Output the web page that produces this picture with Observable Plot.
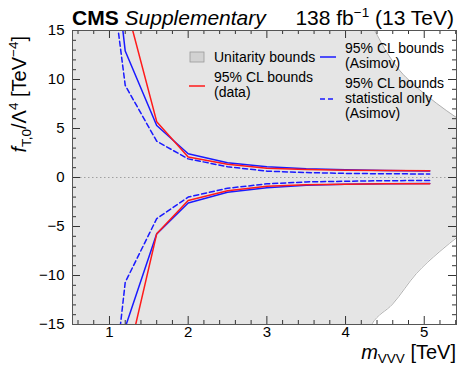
<!DOCTYPE html>
<html>
<head>
<meta charset="utf-8">
<script src="https://cdn.jsdelivr.net/npm/d3@7"></script>
<script src="https://cdn.jsdelivr.net/npm/@observablehq/plot@0.6"></script>
<style>
  body { margin: 0; background: white; }
  #wrap { position: relative; width: 460px; height: 366px; font-family: "Liberation Sans", Arial, sans-serif; }
  #overlay { position: absolute; left: 0; top: 0; pointer-events: none; }
</style>
</head>
<body>
<div id="wrap"></div>
<script>
// ---- data ----
const massX = [1.0, 1.2, 1.6, 2.0, 2.5, 3.0, 3.5, 4.0, 4.5, 5.07];
const dataUpper   = [null, 17.9, 5.7, 2.1, 1.35, 0.95, 0.82, 0.75, 0.72, 0.70];
const dataLower   = [null, -19.6, -5.75, -2.35, -1.35, -0.9, -0.75, -0.68, -0.65, -0.65];
const asimovUpper = [27, 12.9, 5.3, 2.42, 1.5, 1.1, 0.9, 0.8, 0.72, 0.66];
const asimovLower = [-30, -15.3, -5.75, -2.6, -1.5, -1.05, -0.8, -0.7, -0.65, -0.6];
const statUpper   = [22, 9.4, 3.7, 1.9, 1.1, 0.65, 0.5, 0.42, 0.38, 0.36];
const statLower   = [-25, -10.7, -4.2, -2.0, -1.1, -0.65, -0.45, -0.38, -0.33, -0.3];

// unitarity boundary points
const unitUpX = [4.30, 4.37, 4.50, 4.69, 4.85, 5.03, 5.28, 5.45];
const unitUpY = [16.0, 15.0, 13.1, 10.9, 9.6, 8.37, 6.84, 5.9];
const unitLoX = [4.27, 4.33, 4.60, 4.90, 5.19, 5.45];
const unitLoY = [-15.85, -15.0, -12.9, -9.8, -7.6, -5.9];

const xMajor = [1, 2, 3, 4, 5];
const xMinor = d3.range(0.6, 5.41, 0.2).map(v => +v.toFixed(1)).filter(v => !xMajor.includes(v));
const yMajor = [-15, -10, -5, 0, 5, 10, 15];
const yMinor = d3.range(-14, 15, 1).filter(v => v % 5 !== 0);

const xDomain = [0.53, 5.41];
const yDomain = [-15, 15];

// ---- build tables ----
function series(vals) {
  return massX.map((x, i) => ({x, y: vals[i]})).filter(d => d.y !== null);
}
const unitUp = unitUpX.map((x, i) => ({x, y: unitUpY[i]}));
const unitLo = unitLoX.map((x, i) => ({x, y: unitLoY[i]}));

const W = 460, H = 366, mL = 72, mR = 4, mT = 30, mB = 42;
const pxPerY = (H - mT - mB) / (yDomain[1] - yDomain[0]);
const pxPerX = (W - mL - mR) / (xDomain[1] - xDomain[0]);
const tyMaj = 8 / pxPerY, tyMin = 4 / pxPerY;
const txMaj = 8 / pxPerX, txMin = 4 / pxPerX;

const gray = "#e5e5e5";
const red = "#ff1a1a", blue = "#1a1aff";

const plot = Plot.plot({
  width: W, height: H,
  marginLeft: mL, marginRight: mR, marginTop: mT, marginBottom: mB,
  x: {domain: xDomain},
  y: {domain: yDomain},
  style: {fontFamily: "Liberation Sans, Arial, sans-serif", fontSize: "15px", color: "black", background: "white"},
  marks: [
    Plot.frame({fill: gray, stroke: null}),
    Plot.areaY(unitUp, {x: "x", y1: "y", y2: 17, fill: "white", curve: "monotone-x", clip: true}),
    Plot.areaY(unitLo, {x: "x", y1: "y", y2: -17, fill: "white", curve: "monotone-x", clip: true}),
    Plot.line(unitUp, {x: "x", y: "y", stroke: "#a8a8a8", strokeWidth: 0.9, curve: "monotone-x", clip: true}),
    Plot.line(unitLo, {x: "x", y: "y", stroke: "#a8a8a8", strokeWidth: 0.9, curve: "monotone-x", clip: true}),
    Plot.ruleY([0], {stroke: "#a0a0a0", strokeDasharray: "1.5,2.5", strokeWidth: 1}),
    Plot.line(series(statUpper), {x: "x", y: "y", stroke: blue, strokeWidth: 1.5, strokeDasharray: "5,3", clip: true}),
    Plot.line(series(statLower), {x: "x", y: "y", stroke: blue, strokeWidth: 1.5, strokeDasharray: "5,3", clip: true}),
    Plot.line(series(asimovUpper), {x: "x", y: "y", stroke: blue, strokeWidth: 1.5, clip: true}),
    Plot.line(series(asimovLower), {x: "x", y: "y", stroke: blue, strokeWidth: 1.5, clip: true}),
    Plot.line(series(dataUpper), {x: "x", y: "y", stroke: red, strokeWidth: 1.5, clip: true}),
    Plot.line(series(dataLower), {x: "x", y: "y", stroke: red, strokeWidth: 1.5, clip: true}),
    // inward ticks on all four sides
    Plot.ruleX(xMajor, {y1: yDomain[0], y2: yDomain[0] + tyMaj, stroke: "#333"}),
    Plot.ruleX(xMinor, {y1: yDomain[0], y2: yDomain[0] + tyMin, stroke: "#333"}),
    Plot.ruleX(xMajor, {y1: yDomain[1], y2: yDomain[1] - tyMaj, stroke: "#333"}),
    Plot.ruleX(xMinor, {y1: yDomain[1], y2: yDomain[1] - tyMin, stroke: "#333"}),
    Plot.ruleY(yMajor, {x1: xDomain[0], x2: xDomain[0] + txMaj, stroke: "#333"}),
    Plot.ruleY(yMinor, {x1: xDomain[0], x2: xDomain[0] + txMin, stroke: "#333"}),
    Plot.ruleY(yMajor, {x1: xDomain[1], x2: xDomain[1] - txMaj, stroke: "#333"}),
    Plot.ruleY(yMinor, {x1: xDomain[1], x2: xDomain[1] - txMin, stroke: "#333"}),
    Plot.axisX(xMajor, {tickSize: 0, tickPadding: 2, fontSize: 15, label: null}),
    Plot.axisY(yMajor, {tickSize: 0, tickPadding: 8, fontSize: 15, label: null, tickFormat: d => d < 0 ? "\u2212" + Math.abs(d) : String(d)}),
    Plot.frame({stroke: "#555", strokeWidth: 1})
  ]
});

const wrap = document.getElementById("wrap");
wrap.appendChild(plot);

// ---- header, axis titles and legend ----
const ns = "http://www.w3.org/2000/svg";
const ov = document.createElementNS(ns, "svg");
ov.setAttribute("id", "overlay");
ov.setAttribute("width", W);
ov.setAttribute("height", H);
ov.setAttribute("font-family", "Liberation Sans, Arial, sans-serif");
ov.innerHTML = `
  <text x="72" y="25" font-size="21"><tspan font-weight="bold">CMS</tspan> <tspan font-style="italic">Supplementary</tspan></text>
  <text x="454" y="25" font-size="21" text-anchor="end">138 fb<tspan dy="-8" font-size="13.5">\u22121</tspan><tspan dy="8"> (13 TeV)</tspan></text>
  <text transform="translate(26,36) rotate(-90)" font-size="20" text-anchor="end"><tspan font-style="italic">f</tspan><tspan dy="5" font-size="13.5">T,0</tspan><tspan dy="-5">/\u039B</tspan><tspan dy="-8" font-size="13.5">4</tspan><tspan dy="8"> [TeV</tspan><tspan dy="-8" font-size="13.5">\u22124</tspan><tspan dy="8">]</tspan></text>
  <text x="456" y="359" font-size="20" text-anchor="end"><tspan font-style="italic">m</tspan><tspan dy="4" font-size="13.5">VVV</tspan><tspan dy="-4"> [TeV]</tspan></text>
  <rect x="190" y="52" width="14" height="10" fill="#d2d2d2" stroke="#9a9a9a" stroke-width="0.8"/>
  <text x="214" y="62" font-size="14">Unitarity bounds</text>
  <line x1="189" x2="205" y1="86" y2="86" stroke="${red}" stroke-width="1.5"/>
  <text x="214" y="81.5" font-size="14">95% CL bounds</text>
  <text x="214" y="96.5" font-size="14">(data)</text>
  <line x1="320" x2="336" y1="57" y2="57" stroke="${blue}" stroke-width="1.5"/>
  <text x="345" y="53" font-size="14">95% CL bounds</text>
  <text x="345" y="68" font-size="14">(Asimov)</text>
  <line x1="320" x2="336" y1="99" y2="99" stroke="${blue}" stroke-width="1.5" stroke-dasharray="5,3"/>
  <text x="345" y="87.5" font-size="14">95% CL bounds</text>
  <text x="345" y="103" font-size="14">statistical only</text>
  <text x="345" y="118" font-size="14">(Asimov)</text>
`;
wrap.appendChild(ov);
</script>
</body>
</html>
